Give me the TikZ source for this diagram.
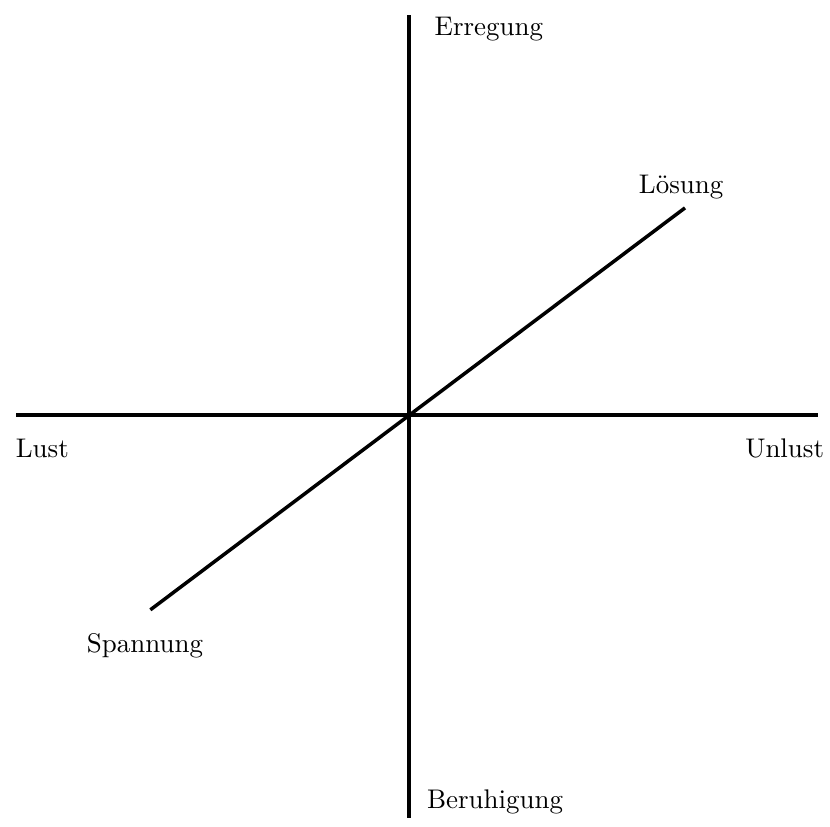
\documentclass[tikz,border=0pt]{standalone}
\usepackage{tikz}
\usetikzlibrary{positioning}

\begin{document}
\begin{tikzpicture}[
    axis/.style={line width=1.3pt},
    lbl/.style={inner sep=0pt}]
  \useasboundingbox (-5.33,-5.36) rectangle (5.49,5.41);
  % axis ends
  \coordinate (o) at (0,0);
  \coordinate (left) at (-5.12,0);
  \coordinate (right) at (5.34,0);
  \coordinate (top) at (0,5.21);
  \coordinate (bottom) at (0,-5.25);
  \coordinate (span) at (-3.37,-2.54);
  \coordinate (loes) at (3.60,2.70);
  \draw[axis] (left) -- (right);
  \draw[axis] (bottom) -- (top);
  \draw[axis] (span) -- (loes);
  % labels
  \node[lbl, anchor=base west] (erregung) at (0.33,4.95) {Erregung};
  \node[lbl, anchor=base west] (beruhigung) at (0.23,-5.13) {Beruhigung};
  \node[lbl, anchor=base west] (lust) at (-5.13,-0.56) {Lust};
  \node[lbl, anchor=base east] (unlust) at (5.42,-0.56) {Unlust};
  \node[lbl, anchor=base] (loesung) at (3.55,2.89) {Lösung};
  \node[lbl, anchor=base] (spannung) at (-3.44,-3.10) {Spannung};
\end{tikzpicture}
\end{document}
